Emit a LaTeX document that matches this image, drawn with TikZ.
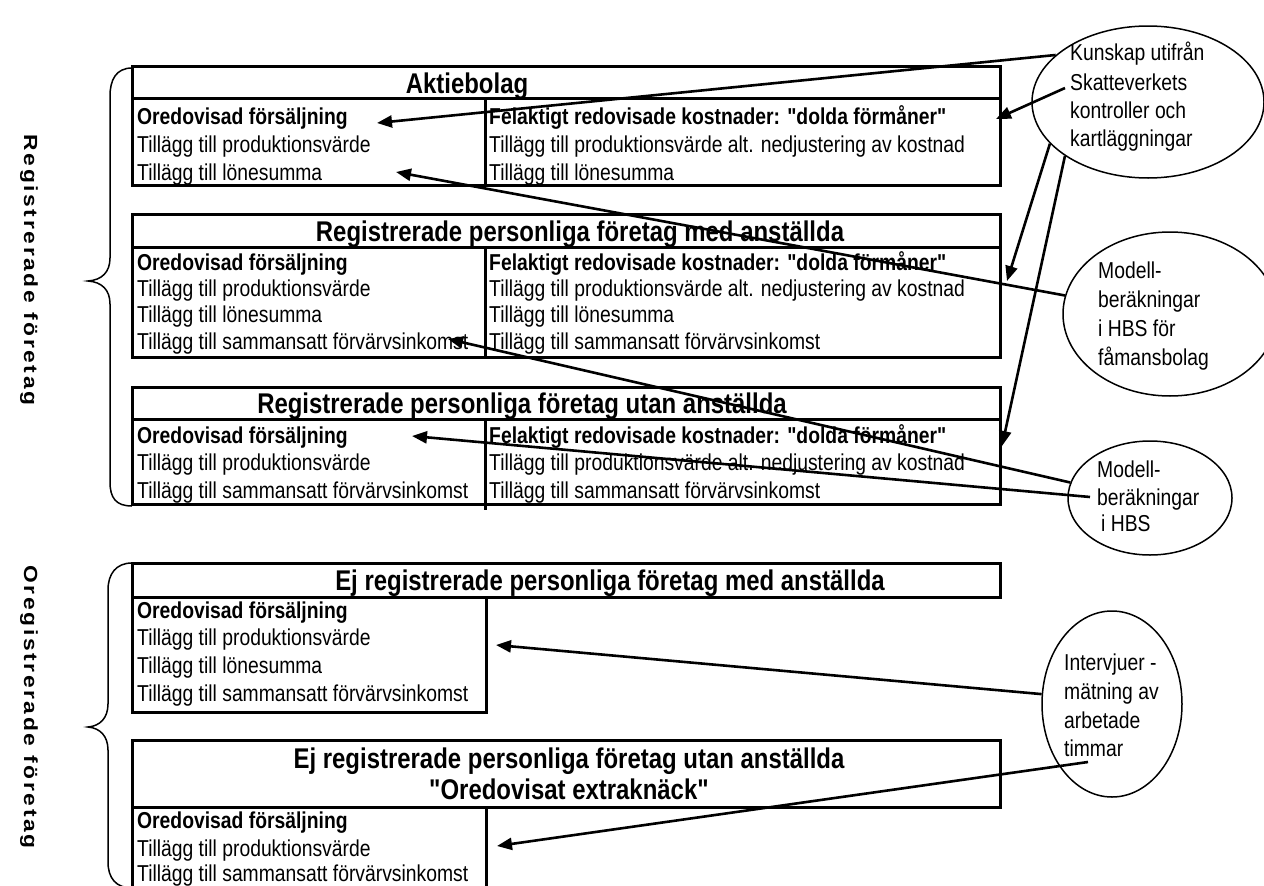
\documentclass[tikz,border=0pt]{standalone}
\usepackage{fontspec}
\setmainfont{Liberation Sans}
\newfontfamily\mf{Liberation Sans}[FakeStretch=0.84, Ligatures=TeXOff]
\newfontfamily\spacedfont{Liberation Sans}[LetterSpace=14, FakeStretch=1.2]
\usetikzlibrary{arrows.meta,shapes.geometric}
\begin{document}
\begin{tikzpicture}[x=1pt,y=-1pt,
  box/.style={draw, line width=3pt},
  row/.style={font=\mf\fontsize{23}{27}\selectfont, anchor=west, inner sep=0pt, text height=16.4pt, text depth=0pt},
  rowb/.style={row, font=\mf\fontsize{23}{27}\selectfont\bfseries},
  ttl/.style={font=\mf\fontsize{28.5}{32}\selectfont\bfseries, inner sep=0pt, text height=20.4pt, text depth=0pt},
  conn/.style={line width=2.6pt, -{Triangle[length=15pt,width=12pt]}},
  oval/.style={ellipse, draw, line width=1.5pt, inner sep=0pt},
  brace/.style={line width=1.5pt},
  side/.style={font=\spacedfont\bfseries\fontsize{19}{22}\selectfont, rotate=-90, inner sep=0pt}
]
\useasboundingbox (0,0) rectangle (1264,886);
\fill[white] (0,0) rectangle (1264,886);

% ---------- Box 1: Aktiebolag
\draw[box] (132,66) rectangle (1000,185);
\draw[box] (132,98) -- (1000,98);
\draw[box] (485,98) -- (485,185);
\node[ttl] (B1t) at (467,83) {Aktiebolag};
\node[rowb] (B1a) at (137,116) {Oredovisad försäljning};
\node[row] (B1b) at (137,144) {Tillägg till produktionsvärde};
\node[row] (B1c) at (137,172) {Tillägg till lönesumma};
\node[rowb] (B1d) at (489,116) {Felaktigt redovisade kostnader: "dolda förmåner"};
\node[row] (B1e) at (489,144) {Tillägg till produktionsvärde alt. nedjustering av kostnad};
\node[row] (B1f) at (489,172) {Tillägg till lönesumma};

% ---------- Box 2
\draw[box] (132,214) rectangle (1000,357);
\draw[box] (132,247) -- (1000,247);
\draw[box] (485,247) -- (485,357);
\node[ttl] (B2t) at (580,231) {Registrerade personliga företag med anställda};
\node[rowb] (B2a) at (137,262) {Oredovisad försäljning};
\node[row] (B2b) at (137,288) {Tillägg till produktionsvärde};
\node[row] (B2c) at (137,314) {Tillägg till lönesumma};
\node[row] (B2d) at (137,341) {Tillägg till sammansatt förvärvsinkomst};
\node[rowb] (B2e) at (489,262) {Felaktigt redovisade kostnader: "dolda förmåner"};
\node[row] (B2f) at (489,288) {Tillägg till produktionsvärde alt. nedjustering av kostnad};
\node[row] (B2g) at (489,314) {Tillägg till lönesumma};
\node[row] (B2h) at (489,341) {Tillägg till sammansatt förvärvsinkomst};

% ---------- Box 3
\draw[box] (132,387) rectangle (1000,504);
\draw[box] (132,419) -- (1000,419);
\draw[box] (485,419) -- (485,510);
\node[ttl] (B3t) at (522,403) {Registrerade personliga företag utan anställda};
\node[rowb] (B3a) at (137,435) {Oredovisad försäljning};
\node[row] (B3b) at (137,462) {Tillägg till produktionsvärde};
\node[row] (B3c) at (137,490) {Tillägg till sammansatt förvärvsinkomst};
\node[rowb] (B3d) at (489,435) {Felaktigt redovisade kostnader: "dolda förmåner"};
\node[row] (B3e) at (489,462) {Tillägg till produktionsvärde alt. nedjustering av kostnad};
\node[row] (B3f) at (489,490) {Tillägg till sammansatt förvärvsinkomst};

% ---------- Box 4
\draw[box] (132,563) rectangle (1000,597);
\draw[box] (132,597) rectangle (486,712);
\node[ttl] (B4t) at (610,580) {Ej registrerade personliga företag med anställda};
\node[rowb] (B4a) at (137,610) {Oredovisad försäljning};
\node[row] (B4b) at (137,637) {Tillägg till produktionsvärde};
\node[row] (B4c) at (137,665) {Tillägg till lönesumma};
\node[row] (B4d) at (137,693) {Tillägg till sammansatt förvärvsinkomst};

% ---------- Box 5
\draw[box] (132,740) rectangle (1000,807);
\draw[box] (132,807) rectangle (486,892);
\node[ttl] (B5t) at (569,758) {Ej registrerade personliga företag utan anställda};
\node[ttl] (B5u) at (569,789) {"Oredovisat extraknäck"};
\node[rowb] (B5a) at (137,820) {Oredovisad försäljning};
\node[row] (B5b) at (137,848) {Tillägg till produktionsvärde};
\node[row] (B5c) at (137,873) {Tillägg till sammansatt förvärvsinkomst};

% ---------- Ellipses
\node[oval, minimum width=232pt, minimum height=152pt] (E1) at (1148,102) {};
\node[row] (E1a) at (1070,52) {Kunskap utifrån};
\node[row] (E1b) at (1070,82) {Skatteverkets};
\node[row] (E1c) at (1070,110) {kontroller och};
\node[row] (E1d) at (1070,138) {kartläggningar};

\node[oval, minimum width=214pt, minimum height=164pt] (E2) at (1170,314) {};
\node[row] (E2a) at (1098,270) {Modell-};
\node[row] (E2b) at (1098,299) {beräkningar};
\node[row] (E2c) at (1098,328) {i HBS för};
\node[row] (E2d) at (1098,357) {fåmansbolag};

\node[oval, minimum width=164pt, minimum height=114pt] (E3) at (1150,498) {};
\node[row] (E3a) at (1097,469) {Modell-};
\node[row] (E3b) at (1097,497) {beräkningar};
\node[row] (E3c) at (1101,523) {i HBS};

\node[oval, minimum width=140pt, minimum height=186pt] (E4) at (1112,704) {};
\node[row] (E4a) at (1064,662) {Intervjuer -};
\node[row] (E4b) at (1064,691) {mätning av};
\node[row] (E4c) at (1064,720) {arbetade};
\node[row] (E4d) at (1064,748) {timmar};

% ---------- Side labels and braces
\node[side] (L1) at (29,270) {Registrerade företag};
\node[side] (L2) at (29,707) {Oregistrerade företag};
\draw[brace] (132,68) .. controls (116,68) and (110,80) .. (110,96) -- (110,258)
  .. controls (110,272) and (102,280) .. (88,281)
  .. controls (102,282) and (110,290) .. (110,304) -- (110,482)
  .. controls (110,498) and (116,506) .. (132,506);
\draw[brace] (132,563) .. controls (116,563) and (108,574) .. (108,590) -- (108,704)
  .. controls (108,718) and (100,726) .. (88,727)
  .. controls (100,728) and (108,736) .. (108,750) -- (108,862)
  .. controls (108,878) and (116,888) .. (132,888);

% ---------- Connector end points
\coordinate (ta1) at (377,123);
\coordinate (sa2) at (1065,88);
\coordinate (ta2) at (996,119);
\coordinate (ta3) at (1007,281);
\coordinate (ta4) at (1002,446);
\coordinate (tb1) at (396,172);
\coordinate (tc1) at (448,339);
\coordinate (sc2) at (1090,497);
\coordinate (tc2) at (412,436);
\coordinate (td1) at (496,645);
\coordinate (sd2) at (1088,762);
\coordinate (td2) at (497,846);

% ---------- Connectors
\draw[conn] (E1.153) -- (ta1);
\draw[conn] (sa2) -- (ta2);
\draw[conn] (E1.203) -- (ta3);
\draw[conn] (E1.213) -- (ta4);
\draw[conn] (E2.170) -- (tb1);
\draw[conn] (E3.169) -- (tc1);
\draw[conn] (sc2) -- (tc2);
\draw[conn] (E4.172) -- (td1);
\draw[conn] (sd2) -- (td2);
\end{tikzpicture}
\end{document}
